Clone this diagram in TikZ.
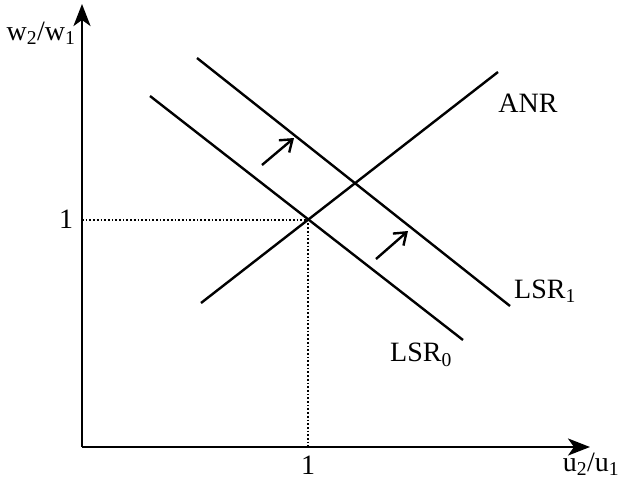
\documentclass[tikz,border=0pt]{standalone}
\usepackage{fontspec}
\setmainfont{Liberation Serif}
\usetikzlibrary{arrows.meta}
\begin{document}
\begin{tikzpicture}[x=1pt,y=-1pt,
  curve/.style={line width=2.4pt},
  axis/.style={line width=2.8pt,-{Stealth[length=22pt,width=17pt,inset=6pt]}},
  guide/.style={line width=1.7pt,dotted},
  shift arrow/.style={line width=2.4pt,-{Straight Barb[length=11pt,width=16pt]}},
  lbl/.style={font=\fontsize{28}{32}\selectfont,inner sep=0pt}]
\useasboundingbox (0,0) rectangle (623,480);
% axes
\coordinate (O) at (82,447);
\coordinate (Ytop) at (82,4);
\coordinate (Xend) at (590,447);
\draw[axis] (O) -- (Ytop);
\draw[axis] (O) -- (Xend);
% equilibrium
\coordinate (E) at (308,220);
\coordinate (Ey) at (82,220);
\coordinate (Ex) at (308,447);
\draw[guide] (Ey) -- (E) -- (Ex);
% curves
\coordinate (A1) at (201,303);
\coordinate (A2) at (498,72);
\coordinate (L01) at (150,96);
\coordinate (L02) at (463,340);
\coordinate (L11) at (197,58);
\coordinate (L12) at (510,306);
\draw[curve] (A1) -- (A2);
\draw[curve] (L01) -- (L02);
\draw[curve] (L11) -- (L12);
% shift arrows
\coordinate (s1a) at (262,165);
\coordinate (s1b) at (294,138);
\coordinate (s2a) at (376,259);
\coordinate (s2b) at (408,231);
\draw[shift arrow] (s1a) -- (s1b);
\draw[shift arrow] (s2a) -- (s2b);
% labels
\node[lbl] (ylab) at (41,33) {w\textsubscript{2}/w\textsubscript{1}};
\node[lbl] (xlab) at (591,464) {u\textsubscript{2}/u\textsubscript{1}};
\node[lbl] (one y) at (66,219) {1};
\node[lbl] (one x) at (308,465) {1};
\node[lbl] (anr) at (528,103) {ANR};
\node[lbl] (lsr1) at (545,291) {LSR\textsubscript{1}};
\node[lbl] (lsr0) at (421,355) {LSR\textsubscript{0}};
\end{tikzpicture}
\end{document}
